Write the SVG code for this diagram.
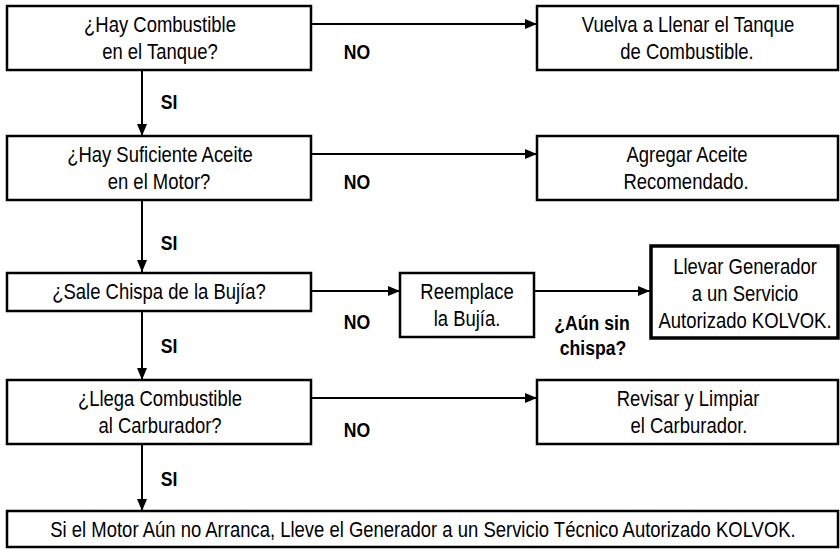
<svg xmlns="http://www.w3.org/2000/svg" width="840" height="549" viewBox="0 0 840 549">
<defs>
<marker id="ah" viewBox="0 0 12 10" refX="12" refY="5" markerWidth="12" markerHeight="10" markerUnits="userSpaceOnUse" orient="auto">
<path d="M0,0 L12,5 L0,10 Z" fill="#000"/>
</marker>
<style>
.box{fill:#fff;stroke:#000;stroke-width:2.5}
.thick{stroke-width:3.5}
.t{font-family:"Liberation Sans",Arial,sans-serif;font-size:22px;fill:#000;text-anchor:middle}
.b{font-family:"Liberation Sans",Arial,sans-serif;font-size:21px;font-weight:bold;fill:#000;text-anchor:middle}
.c{fill:none;stroke:#000;stroke-width:2;marker-end:url(#ah)}
</style>
</defs>
<rect width="840" height="549" fill="#fff"/>
<g id="connectors">
<line class="c" x1="311" y1="24" x2="537" y2="24"/>
<line class="c" x1="142" y1="70" x2="142" y2="136"/>
<line class="c" x1="311" y1="154" x2="537" y2="154"/>
<line class="c" x1="142" y1="200" x2="142" y2="272"/>
<line class="c" x1="311" y1="291" x2="400" y2="291"/>
<line class="c" x1="534" y1="291" x2="650" y2="291"/>
<line class="c" x1="142" y1="310" x2="142" y2="380"/>
<line class="c" x1="311" y1="398" x2="537" y2="398"/>
<line class="c" x1="142" y1="444" x2="142" y2="511"/>
<text class="b" transform="translate(357,59) scale(0.84,1)">NO</text>
<text class="b" transform="translate(169,109) scale(0.84,1)">SI</text>
<text class="b" transform="translate(357,189) scale(0.84,1)">NO</text>
<text class="b" transform="translate(169,250) scale(0.84,1)">SI</text>
<text class="b" transform="translate(357,329) scale(0.84,1)">NO</text>
<text class="b" transform="translate(592,330) scale(0.84,1)">¿Aún sin</text>
<text class="b" transform="translate(593,355) scale(0.84,1)">chispa?</text>
<text class="b" transform="translate(169,353) scale(0.84,1)">SI</text>
<text class="b" transform="translate(357,437) scale(0.84,1)">NO</text>
<text class="b" transform="translate(169,486) scale(0.84,1)">SI</text>
</g>
<g id="q1">
<rect class="box" x="7" y="6" width="304" height="64"/>
<text class="t" transform="translate(160,32) scale(0.84,1)">¿Hay Combustible</text>
<text class="t" transform="translate(160,59) scale(0.84,1)">en el Tanque?</text>
</g>
<g id="a1">
<rect class="box" x="537" y="6" width="301" height="64"/>
<text class="t" transform="translate(688,32) scale(0.84,1)">Vuelva a Llenar el Tanque</text>
<text class="t" transform="translate(687,59) scale(0.84,1)">de Combustible.</text>
</g>
<g id="q2">
<rect class="box" x="7" y="136" width="304" height="64"/>
<text class="t" transform="translate(160,162) scale(0.84,1)">¿Hay Suficiente Aceite</text>
<text class="t" transform="translate(159,189) scale(0.84,1)">en el Motor?</text>
</g>
<g id="a2">
<rect class="box" x="537" y="136" width="301" height="64"/>
<text class="t" transform="translate(687,162) scale(0.84,1)">Agregar Aceite</text>
<text class="t" transform="translate(686,189) scale(0.84,1)">Recomendado.</text>
</g>
<g id="q3">
<rect class="box" x="7" y="273" width="304" height="38"/>
<text class="t" transform="translate(159,299) scale(0.84,1)">¿Sale Chispa de la Bujía?</text>
</g>
<g id="a3">
<rect class="box" x="400" y="273" width="134" height="64"/>
<text class="t" transform="translate(467,299) scale(0.84,1)">Reemplace</text>
<text class="t" transform="translate(467,326) scale(0.84,1)">la Bujía.</text>
</g>
<g id="a3b">
<rect class="box thick" x="651" y="246" width="187" height="92"/>
<text class="t" transform="translate(745,274) scale(0.84,1)">Llevar Generador</text>
<text class="t" transform="translate(745,301) scale(0.84,1)">a un Servicio</text>
<text class="t" transform="translate(745,328) scale(0.84,1)">Autorizado KOLVOK.</text>
</g>
<g id="q4">
<rect class="box" x="7" y="380" width="304" height="64"/>
<text class="t" transform="translate(160,406) scale(0.84,1)">¿Llega Combustible</text>
<text class="t" transform="translate(160,433) scale(0.84,1)">al Carburador?</text>
</g>
<g id="a4">
<rect class="box" x="537" y="380" width="301" height="64"/>
<text class="t" transform="translate(688,406) scale(0.84,1)">Revisar y Limpiar</text>
<text class="t" transform="translate(689,433) scale(0.84,1)">el Carburador.</text>
</g>
<g id="final">
<rect class="box" x="7" y="511" width="831" height="36"/>
<text class="t" transform="translate(423,537) scale(0.84,1)">Si el Motor Aún no Arranca, Lleve el Generador a un Servicio Técnico Autorizado KOLVOK.</text>
</g>
</svg>
